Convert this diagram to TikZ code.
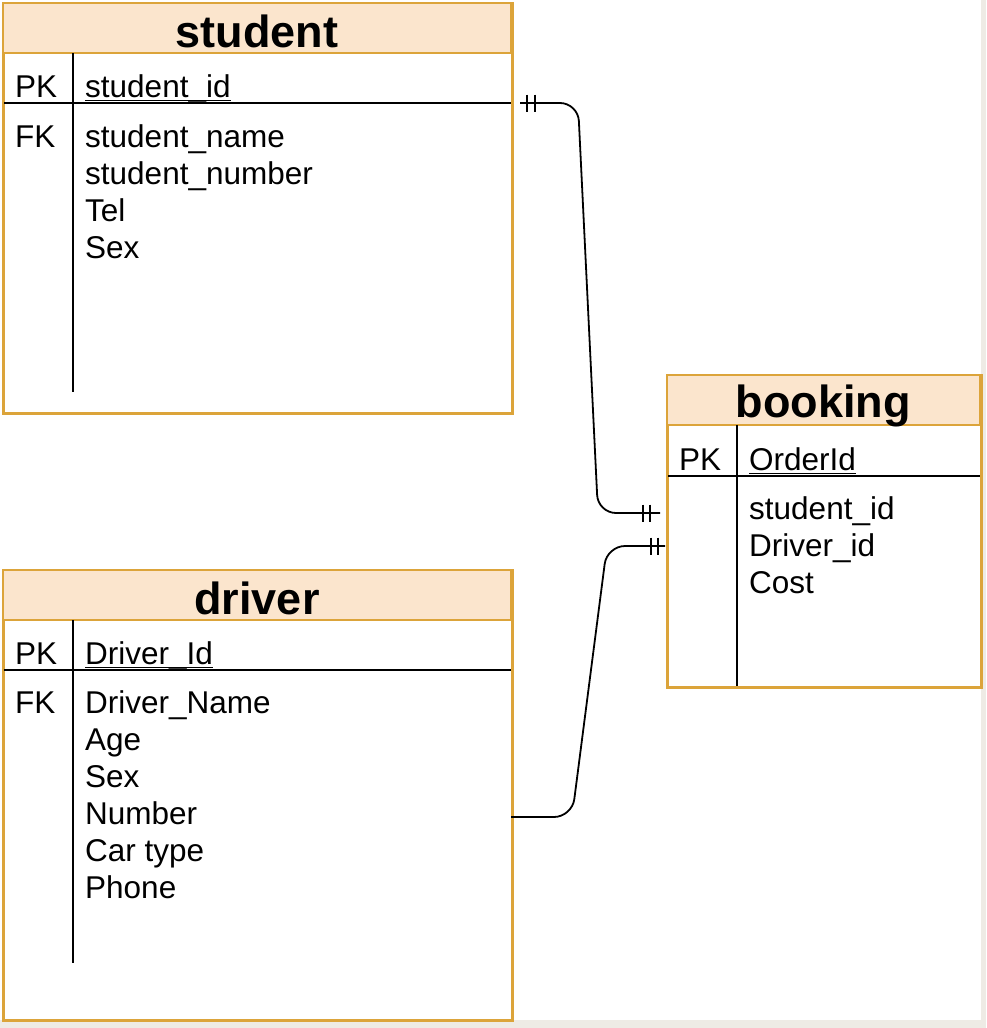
\documentclass[tikz,border=0pt]{standalone}
\usepackage{fontspec}
\setmainfont{Liberation Sans}
\definecolor{tfill}{HTML}{FBE5CD}
\definecolor{tdraw}{HTML}{DCA43A}
\definecolor{bggrey}{HTML}{EEEBE5}
\tikzset{
 tbl/.style={draw=tdraw, line width=2pt, fill=white, inner sep=0pt, anchor=north west},
 hdr/.style={fill=tfill, draw=tdraw, line width=2pt},
 border/.style={draw=tdraw, line width=2pt},
 sep/.style={draw=black, line width=1.6pt},
 title/.style={font=\fontsize{45}{50}\selectfont\bfseries, inner sep=0pt, anchor=base},
 fld/.style={font=\fontsize{31.5}{37}\selectfont, inner sep=0pt, anchor=base west},
 uline/.style={draw=black, line width=1.3pt},
 conn/.style={draw=black, line width=1.8pt, rounded corners=18pt},
 tick/.style={draw=black, line width=1.8pt},
}
\begin{document}
\begin{tikzpicture}[x=1pt,y=-1pt]
\fill[bggrey] (0,0) rectangle (986,1028);
\fill[white] (0,0) rectangle (981,1020);
\useasboundingbox (0,0) rectangle (986,1028);

% ---------- student ----------
\node[tbl, minimum width=508pt, minimum height=409pt] (student) at (3,3) {};
\draw[hdr] (3,3) rectangle (511,53);
\draw[sep] (73,53) -- (73,392);
\draw[sep] (3,103) -- (511,103);
\draw[border] (student.north west) rectangle (student.south east);
\node[title] (stitle) at (257,47) {student};
\node[fld] (spk) at (15,97) {PK};
\node[fld] (sid) at (85,97) {student\_id};
\draw[uline] ([yshift=-3.5pt]sid.base west) -- ([yshift=-3.5pt]sid.base east);
\node[fld] (sfk) at (15,147) {FK};
\node[fld] (s1) at (85,147) {student\_name};
\node[fld] (s2) at (85,184) {student\_number};
\node[fld] (s3) at (85,221) {Tel};
\node[fld] (s4) at (85,258) {Sex};

% ---------- booking ----------
\node[tbl, minimum width=313pt, minimum height=311pt] (booking) at (667,375) {};
\draw[hdr] (667,375) rectangle (980,425);
\draw[sep] (737,425) -- (737,686);
\draw[sep] (667,476) -- (980,476);
\draw[border] (booking.north west) rectangle (booking.south east);
\node[title] (btitle) at (823,417) {booking};
\node[fld] (bpk) at (679,470) {PK};
\node[fld] (bid) at (749,470) {OrderId};
\draw[uline] ([yshift=-3.5pt]bid.base west) -- ([yshift=-3.5pt]bid.base east);
\node[fld] (b1) at (749,519) {student\_id};
\node[fld] (b2) at (749,556) {Driver\_id};
\node[fld] (b3) at (749,593) {Cost};

% ---------- driver ----------
\node[tbl, minimum width=508pt, minimum height=449pt] (driver) at (3,570) {};
\draw[hdr] (3,570) rectangle (511,620);
\draw[sep] (73,620) -- (73,963);
\draw[sep] (3,670) -- (511,670);
\draw[border] (driver.north west) rectangle (driver.south east);
\node[title] (dtitle) at (257,614) {driver};
\node[fld] (dpk) at (15,664) {PK};
\node[fld] (did) at (85,664) {Driver\_Id};
\draw[uline] ([yshift=-3.5pt]did.base west) -- ([yshift=-3.5pt]did.base east);
\node[fld] (dfk) at (15,713) {FK};
\node[fld] (d1) at (85,713) {Driver\_Name};
\node[fld] (d2) at (85,750) {Age};
\node[fld] (d3) at (85,787) {Sex};
\node[fld] (d4) at (85,824) {Number};
\node[fld] (d5) at (85,861) {Car type};
\node[fld] (d6) at (85,898) {Phone};

% ---------- connectors ----------
\coordinate (c1a) at (520,103);
\coordinate (c1b) at (660,513);
\draw[conn] (c1a) -- (578,103) -- (598,513) -- (c1b);
\draw[tick] ([shift={(7,-8.5)}]c1a) -- ++(0,17);
\draw[tick] ([shift={(15,-8.5)}]c1a) -- ++(0,17);
\draw[tick] ([shift={(-17,-8.5)}]c1b) -- ++(0,17);
\draw[tick] ([shift={(-10,-8.5)}]c1b) -- ++(0,17);

\coordinate (c2a) at (511,817);
\coordinate (c2b) at (665,546);
\draw[conn] (c2a) -- (572,817) -- (607,546) -- (c2b);
\draw[tick] ([shift={(-14,-8.5)}]c2b) -- ++(0,17);
\draw[tick] ([shift={(-7,-8.5)}]c2b) -- ++(0,17);
\end{tikzpicture}
\end{document}
